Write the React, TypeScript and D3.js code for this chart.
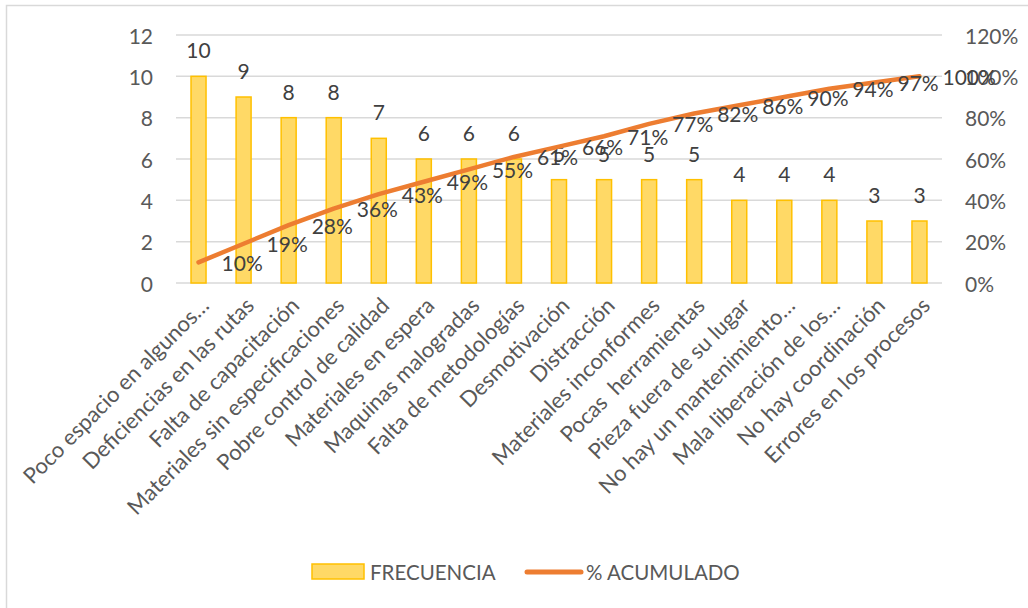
import React from "react";
import * as d3 from "d3";

const categories = [
  "Poco espacio en algunos…",
  "Deficiencias en las rutas",
  "Falta de capacitación",
  "Materiales sin especificaciones",
  "Pobre control de calidad",
  "Materiales en espera",
  "Maquinas malogradas",
  "Falta de metodologías",
  "Desmotivación",
  "Distracción",
  "Materiales inconformes",
  "Pocas  herramientas",
  "Pieza fuera de su lugar",
  "No hay un mantenimiento…",
  "Mala liberación de los…",
  "No hay coordinación",
  "Errores en los procesos",
];
const frecuencia = [10, 9, 8, 8, 7, 6, 6, 6, 5, 5, 5, 5, 4, 4, 4, 3, 3];
const acumulado = [10, 19, 28, 36, 43, 49, 55, 61, 66, 71, 77, 82, 86, 90, 94, 97, 100];
const leftTicks = [0, 2, 4, 6, 8, 10, 12];
const rightTicks = [0, 20, 40, 60, 80, 100, 120];

const W = 1028;
const H = 608;
const FONT = "Lato, 'Liberation Sans', sans-serif";
const AXIS_COLOR = "#595959";
const LABEL_COLOR = "#404040";

export default function App() {
  const x = d3
    .scaleBand<string>()
    .domain(categories)
    .range([176, 942])
    .paddingInner(0.667)
    .paddingOuter(0.3335);
  const y = d3.scaleLinear().domain([0, 12]).range([283, 35]);
  const y2 = d3.scaleLinear().domain([0, 120]).range([283, 35]);
  const cx = (c: string) => (x(c) as number) + x.bandwidth() / 2;

  const line = d3
    .line<number>()
    .x((_, i) => cx(categories[i]))
    .y((d) => y2(d));

  return (
    <div style={{ position: "fixed", left: 0, top: 0, width: W, height: H, background: "#fff" }}>
      <svg width={W} height={H} style={{ display: "block", fontFamily: FONT }}>
        <rect x={0} y={0} width={W} height={H} fill="#fff" />
        <rect x={6.5} y={5.5} width={W + 50} height={H + 50} fill="none" stroke="#D9D9D9" strokeWidth={1.5} />
        {/* gridlines */}
        {leftTicks.map((t) => (
          <line key={"g" + t} x1={176} x2={942} y1={y(t)} y2={y(t)} stroke="#D9D9D9" strokeWidth={1.5} />
        ))}
        {/* left axis */}
        {leftTicks.map((t) => (
          <text key={"l" + t} x={153} y={y(t)} textAnchor="end" dominantBaseline="central" fontSize={21} fill={AXIS_COLOR}>
            {t}
          </text>
        ))}
        {/* right axis */}
        {rightTicks.map((t) => (
          <text key={"r" + t} x={965} y={y2(t)} textAnchor="start" dominantBaseline="central" fontSize={21} fill={AXIS_COLOR}>
            {t + "%"}
          </text>
        ))}
        {/* bars */}
        {categories.map((c, i) => (
          <rect
            key={"b" + i}
            x={x(c)}
            y={y(frecuencia[i])}
            width={x.bandwidth()}
            height={y(0) - y(frecuencia[i])}
            fill="#FFD966"
            stroke="#FFC000"
            strokeWidth={1.5}
          />
        ))}
        {/* bar labels */}
        {categories.map((c, i) => (
          <text key={"bl" + i} x={cx(c)} y={y(frecuencia[i]) - 18} textAnchor="middle" fontSize={21} fill={LABEL_COLOR}>
            {frecuencia[i]}
          </text>
        ))}
        {/* line */}
        <path d={line(acumulado) || ""} fill="none" stroke="#ED7D31" strokeWidth={4.5} strokeLinecap="round" strokeLinejoin="round" />
        {/* line labels */}
        {categories.map((c, i) => (
          <text key={"ll" + i} x={cx(c) + 23} y={y2(acumulado[i])} textAnchor="start" dominantBaseline="central" fontSize={21} fill={LABEL_COLOR}>
            {acumulado[i] + "%"}
          </text>
        ))}
        {/* category labels */}
        {categories.map((c, i) => (
          <text
            key={"c" + i}
            transform={`translate(${cx(c) + 6},${301}) rotate(-45)`}
            textAnchor="end"
            dominantBaseline="central"
            fontSize={22}
            fill={AXIS_COLOR}
            style={{ whiteSpace: "pre" }}
          >
            {c}
          </text>
        ))}
        {/* legend */}
        <rect x={312} y={564} width={52} height={15} fill="#FFD966" stroke="#FFC000" strokeWidth={1.5} />
        <text x={370} y={572} dominantBaseline="central" fontSize={20.5} fill={AXIS_COLOR}>
          FRECUENCIA
        </text>
        <line x1={527} x2={581} y1={572} y2={572} stroke="#ED7D31" strokeWidth={5} strokeLinecap="round" />
        <text x={586} y={572} dominantBaseline="central" fontSize={20.5} fill={AXIS_COLOR}>
          % ACUMULADO
        </text>
      </svg>
    </div>
  );
}
